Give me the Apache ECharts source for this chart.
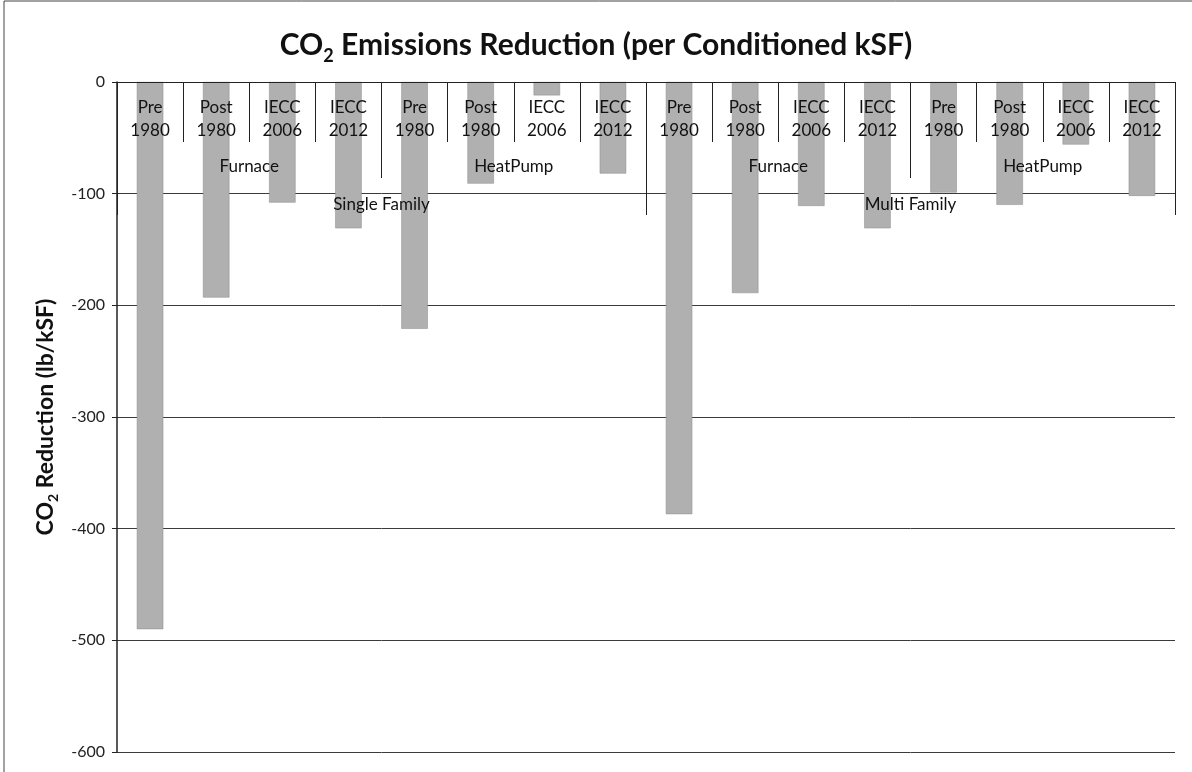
<!DOCTYPE html>
<html>
<head>
<meta charset="utf-8">
<script src="https://cdn.jsdelivr.net/npm/echarts@6/dist/echarts.min.js"></script>
<style>
  html, body { margin: 0; padding: 0; background: #fff; }
  #chart { width: 1192px; height: 772px; }
</style>
</head>
<body>
<div id="chart"></div>
<script>
// ---- data ----
const vintages = ['Pre\n1980', 'Post\n1980', 'IECC\n2006', 'IECC\n2012',
                  'Pre\n1980', 'Post\n1980', 'IECC\n2006', 'IECC\n2012',
                  'Pre\n1980', 'Post\n1980', 'IECC\n2006', 'IECC\n2012',
                  'Pre\n1980', 'Post\n1980', 'IECC\n2006', 'IECC\n2012'];
const systems = ['Furnace', 'HeatPump', 'Furnace', 'HeatPump'];
const buildings = ['Single Family', 'Multi Family'];
const reductions = [-490, -193, -108, -131, -221, -91, -12, -82,
                    -387, -189, -111, -131, -99, -110, -56, -102];
const yTicks = { min: -600, max: 0, interval: 100 };

const FONT = 'Lato';
const chart = echarts.init(document.getElementById('chart'));

function levelAxis(data, margin, tickLen, fontSize, lineHeight, showLine) {
  return {
    type: 'category',
    position: 'top',
    gridIndex: 0,
    data: data,
    boundaryGap: true,
    z: 5,
    axisLine: { show: showLine, onZero: false, lineStyle: { color: '#222', width: 1 } },
    axisTick: { show: true, inside: true, interval: 0, length: tickLen,
                lineStyle: { color: '#222', width: 1 } },
    axisLabel: { show: true, inside: true, interval: 0, margin: margin,
                 fontFamily: FONT, fontSize: fontSize, lineHeight: lineHeight,
                 color: '#111' },
    splitLine: { show: false }
  };
}

chart.setOption({
  backgroundColor: '#fff',
  animation: false,
  title: {
    left: 'center',
    top: 20,
    text: '{b|CO}{s|2}{b| Emissions Reduction (per Conditioned kSF)}',
    textStyle: {
      rich: {
        b: { fontFamily: FONT, fontSize: 30, fontWeight: 'bold', color: '#111', lineHeight: 40 },
        s: { fontFamily: FONT, fontSize: 18, fontWeight: 'bold', color: '#111', lineHeight: 19, verticalAlign: 'bottom' }
      }
    }
  },
  graphic: [{
    type: 'rect',
    shape: { x: 4, y: 1, width: 1300, height: 900 },
    style: { fill: 'none', stroke: '#444', lineWidth: 1 },
    silent: true, z: -1
  }],
  grid: { left: 117, right: 17, top: 82, bottom: 20, containLabel: false },
  xAxis: [
    levelAxis(vintages, 14, 60, 17, 23, true),
    levelAxis(systems, 74, 96, 17, 22, false),
    levelAxis(buildings, 112, 133, 17, 22, false)
  ],
  yAxis: {
    type: 'value',
    min: yTicks.min, max: yTicks.max, interval: yTicks.interval,
    name: '{b|CO}{s|2}{b| Reduction (lb/kSF)}',
    nameLocation: 'middle',
    nameGap: 24,
    nameRotate: 90,
    nameTextStyle: {
      rich: {
        b: { fontFamily: FONT, fontSize: 23, fontWeight: 'bold', color: '#111', lineHeight: 30 },
        s: { fontFamily: FONT, fontSize: 14, fontWeight: 'bold', color: '#111', lineHeight: 15, verticalAlign: 'bottom' }
      }
    },
    axisLine: { show: true, lineStyle: { color: '#222', width: 1.5 } },
    axisTick: { show: true, inside: false, length: 5, lineStyle: { color: '#222' } },
    axisLabel: { fontFamily: FONT, fontSize: 16, color: '#222', margin: 12 },
    splitLine: { show: true, lineStyle: { color: '#3a3a3a', width: 1 } }
  },
  series: [{
    type: 'bar',
    xAxisIndex: 0,
    yAxisIndex: 0,
    data: reductions,
    barWidth: '40%',
    itemStyle: { color: '#b0b0b0', borderColor: '#8a8a8a', borderWidth: 0.5 },
    z: 2
  }]
});
</script>
</body>
</html>
